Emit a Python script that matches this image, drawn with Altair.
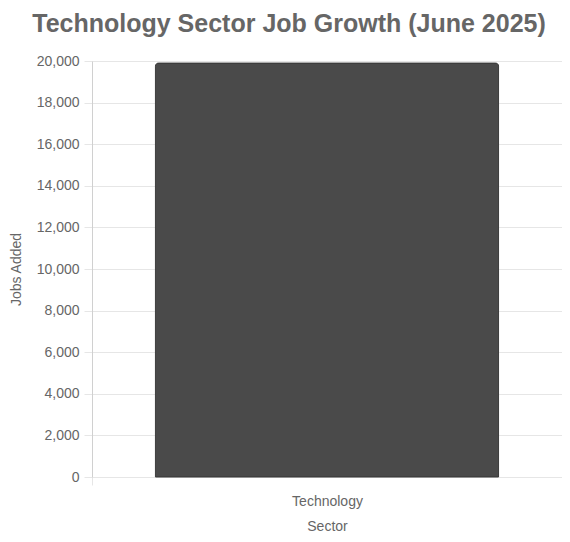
import altair as alt
import pandas as pd

sectors = ["Technology"]
jobs_added = [19900]

df = pd.DataFrame({"Sector": sectors, "Jobs Added": jobs_added})

FONT = "Liberation Sans"
GRID = "#e6e6e6"
TXT = "#666666"

chart = alt.Chart(df).mark_bar(
    width={"band": 0.73},
    color="#4a4a4a",
    stroke="#3c3c3c",
    strokeWidth=1,
    cornerRadiusTopLeft=3,
    cornerRadiusTopRight=3,
).encode(
    x=alt.X(
        "Sector:N",
        title="Sector",
        scale=alt.Scale(paddingInner=0, paddingOuter=0),
        axis=alt.Axis(
            labelAngle=0,
            tickBand="extent",
            grid=True,
            gridColor=GRID,
            domainColor=GRID,
            tickColor=GRID,
            tickSize=8,
            labelPadding=9,
            labelFontSize=14,
            labelColor=TXT,
            labelFont=FONT,
            titleFont=FONT,
            titleFontSize=14,
            titleFontWeight="normal",
            titleColor=TXT,
            titlePadding=11,
        ),
    ),
    y=alt.Y(
        "Jobs Added:Q",
        title="Jobs Added",
        scale=alt.Scale(domain=[0, 20000], nice=False),
        axis=alt.Axis(
            values=list(range(0, 20001, 2000)),
            format=",d",
            grid=True,
            gridColor=GRID,
            domainColor="#d0d0d0",
            tickColor=GRID,
            tickSize=8,
            labelPadding=5,
            labelFontSize=14,
            labelColor=TXT,
            labelFont=FONT,
            titleFont=FONT,
            titleFontSize=14,
            titleFontWeight="normal",
            titleColor=TXT,
            titlePadding=13,
        ),
    ),
).properties(
    width=470,
    height=416,
    title=alt.TitleParams(
        "Technology Sector Job Growth (June 2025)",
        anchor="middle",
        frame="group",
        dx=-38,
        font=FONT,
        fontSize=25,
        fontWeight="bold",
        color=TXT,
        offset=17,
    ),
    autosize=alt.AutoSizeParams(type="none"),
    padding={"left": 84, "top": 53, "right": 0, "bottom": 60},
).configure_view(stroke=GRID)

chart.save("out.html", embed_options={"renderer": "svg", "actions": False})
